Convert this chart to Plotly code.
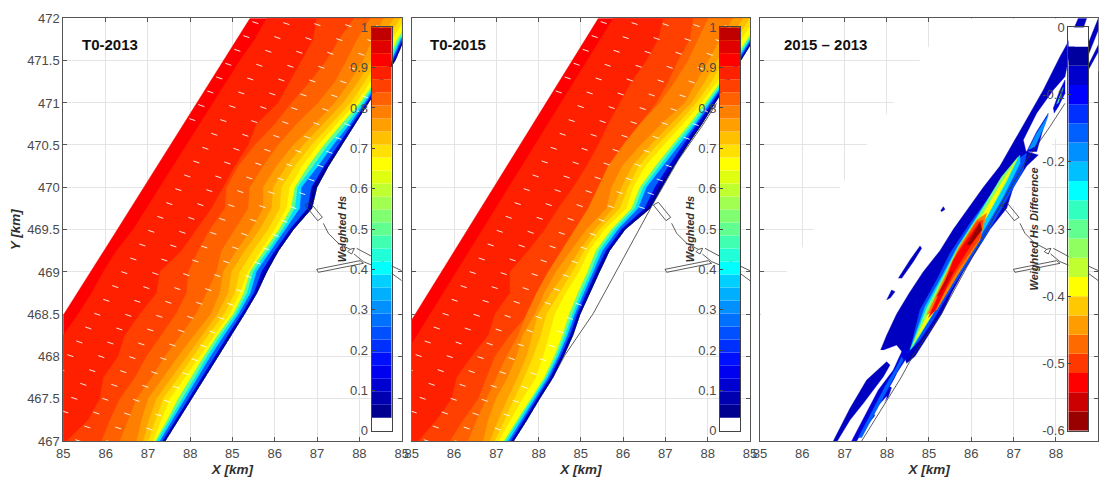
import plotly.graph_objects as go

# Local grid: 127 cells per x tick, 253.6 cells per km in y
row_y = [0,63,127,190,254,317,381,444,508,571,635,698,761,825,888,951,1015,1078,1142,1205,1268]
x_tickvals = [0,127,254,381,507,634,761,888,1015]
x_ticklabels = ["85","86","87","88","85","86","87","88","85"]
y_tickvals = [0,127,254,380,507,634,761,888,1014,1141,1268]
y_ticklabels = ["467","467.5","468","468.5","469","469.5","470","470.5","471","471.5","472"]

# Offshore edge of the model domain
edge_2013 = [-238,-198,-158,-118,-78,-38,2,42,82,122,162,201,241,281,321,361,401,440,481,520,560]
edge_2015 = [-225,-186,-146,-107,-68,-29,11,50,90,129,168,207,246,286,325,364,403,442,482,521,560]
mask_right = [305,345,385,423,460,503,545,590,635,675,715,755,795,835,875,915,955,995,1035,1075,1115]

# Waterline
shore_2013 = [305,345,385,425,465,503,543,580,610,645,690,745,760,795,835,875,915,955,995,1022,1062]
shore_2015 = [305,345,383,423,455,483,505,533,563,593,640,715,750,787,827,870,910,950,987,1025,1065]

# Absolute contour positions, offshore
h_hi_2013 = [-200,-160,-120,-80,-40,0,45,85,120,160,210,250,290,330,370,410,450,490,530,575,610]
h_a_2013 = [10,75,110,120,165,185,230,280,290,355,400,445,480,515,555,580,645,680,715,750,760]
h_b_2013 = [115,140,170,215,250,293,338,370,375,405,440,485,490,525,575,635,685,740,790,827,872]
h_c_2013 = [170,195,220,265,305,353,398,430,460,475,515,555,560,600,645,700,765,815,850,882,922]
h_hi_2015 = [-180,-141,-101,-62,-23,16,56,95,135,174,213,252,291,331,370,409,448,487,527,566,605]
h_a_2015 = [20,75,120,135,180,230,250,295,295,350,400,440,485,525,560,590,625,660,705,740,755]
h_b_2015 = [115,155,200,225,250,295,350,385,420,460,490,540,575,605,635,685,735,770,800,835,845]
h_c_2015 = [170,195,225,255,285,320,345,375,410,450,490,530,560,590,635,685,745,790,830,860,890]

# Distance of the near-shore contours from the waterline
d76_2013 = [85,110,130,125,120,110,100,110,130,125,125,145,160,155,145,120,100,95,95,95,100]
d72_2013 = [65,88,105,100,95,88,80,85,105,100,100,120,130,125,115,95,75,70,70,70,70]
d68_2013 = [50,68,85,80,75,68,60,65,80,75,75,95,105,100,90,72,52,50,50,50,50]
d64_2013 = [35,50,65,60,55,50,43,50,55,52,55,75,80,78,70,55,35,33,35,35,35]
d52_2013 = [29,33,40,42,43,40,33,38,50,42,42,62,65,60,53,40,25,20,20,20,20]
d40_2013 = [23,25,27,30,33,30,25,28,40,32,32,50,57,45,40,25,17,14,13,13,13]
d28_2013 = [15,17,20,22,23,20,17,18,30,22,22,35,45,30,25,15,10,9,9,9,9]
d16_2013 = [7,8,10,10,10,9,8,8,15,10,10,12,15,12,10,7,5,5,5,5,5]
d76_2015 = [90,115,130,135,140,150,135,135,130,115,115,130,150,155,140,120,90,95,95,100,100]
d72_2015 = [70,85,95,105,110,120,125,115,100,90,90,110,120,125,110,92,70,70,70,70,70]
d68_2015 = [55,65,75,85,90,95,100,90,80,75,75,90,100,105,90,72,55,50,50,50,50]
d64_2015 = [43,47,50,50,60,70,75,70,60,60,60,70,85,85,70,55,40,33,35,35,35]
d52_2015 = [28,28,25,25,27,30,32,34,35,40,40,55,65,55,45,36,28,22,20,18,18]
d40_2015 = [22,22,20,20,20,22,22,24,25,30,30,45,55,44,35,26,20,15,13,13,13]
d28_2015 = [14,14,14,14,14,15,15,16,18,20,20,35,45,32,25,18,14,10,9,9,9]
d16_2015 = [7,8,8,8,8,8,8,9,10,10,10,16,20,16,12,10,8,6,5,5,5]
d08_both = [3,3,4,4,4,4,3,3,6,4,4,8,10,6,4,3,2,2,2,2,2]

far_colors = ["#ff0000","#ff2000","#ff4000","#ff6000","#ff8000"]
near_colors = ["#ffa000","#ffc000","#ffe000","#ffff00","#60ff90","#00e0ff","#0060ff","#0000d8","#000090"]

# Colour scales
cb_hs = ["#ffffff","#000090","#0000b0","#0000d0","#0000f0","#0010ff","#0030ff","#0050ff","#0070ff","#0090ff","#00b0ff",
         "#00d0ff","#00ffff","#20ffd8","#40ffb0","#60ff90","#80ff70","#a0ff50","#c0ff30","#e0ff10","#ffff00","#ffe000",
         "#ffc000","#ffa000","#ff8000","#ff6000","#ff4000","#ff2000","#ff0000","#e00000","#c00000"]
cb_diff = ["#990000","#cc0000","#ff0000","#ff3800","#ff6a00","#ff9c00","#ffc800","#ffff00","#c0ff30","#90ff60","#60ff90",
           "#30ffc0","#00ffff","#00c0ff","#0090ff","#0060ff","#0030ff","#0000ff","#0000cc","#00009f","#ffffff"]
cb_hs_ticks = [0,0.1,0.2,0.3,0.4,0.5,0.6,0.7,0.8,0.9,1]
cb_hs_labels = ["0","0.1","0.2","0.3","0.4","0.5","0.6","0.7","0.8","0.9","1"]
cb_diff_ticks = [-0.6,-0.5,-0.4,-0.3,-0.2,-0.1,0]
cb_diff_labels = ["-0.6","-0.5","-0.4","-0.3","-0.2","-0.1","0"]

# Difference panel regions: colour, x, y
diff_regions = [
 ("#0000c0",[362,380,410,448,490,540,580,625,670,720,760,785,835,800,760,740,690,650,610,575,545,505,465,440,430,410,370],
            [273,317,381,444,508,571,635,698,761,825,863,873,858,825,761,698,635,571,508,444,381,317,254,233,263,288,273]),
 ("#0000c0",[415,450,480,485,460,425],[488,543,585,578,538,488]),
 ("#0000c0",[380,395,405,390],[423,453,448,428]),
 ("#0000c0",[542,550,555,545],[691,703,695,688]),
 ("#0000c0",[220,270,320,380,390,370,310,270,232],[0,98,183,238,228,193,113,63,0]),
 ("#0000d8",[275,305,355,400,430,455,410,385,350,310,290],[0,58,153,213,278,273,203,133,83,33,0]),
 ("#ffffff",[340,380,370,345],[90,133,105,75]),
 ("#ffffff",[390,410,400],[163,198,158]),
 ("#0060ff",[295,340,375,410,425,430,380,345,305],[10,98,163,223,253,243,150,85,10]),
 ("#0000c0",[720,800,850,900,925,955,980,970,925,915,880,830,790,800,760],[825,963,1053,1153,1198,1268,1268,1238,1143,1093,1053,983,903,860,790]),
 ("#0000d8",[800,830,865,850,830],[868,928,983,938,868]),
 ("#0090ff",[805,830,865,855,825],[873,923,978,948,883]),
 ("#0000d8",[880,900,915,915,895,882],[998,1053,1083,1043,1003,983]),
 ("#60ff90",[890,905,910,895],[1010,1050,1060,1015]),
 ("#0000c0",[985,1015,1015,985],[1128,1188,1168,1113]),
 ("#0000c0",[985,1015,1015,985],[1193,1268,1233,1158]),
 ("#0050ff",[450,480,530,570,630,690,770,800,790,740,670,610,560,520,480,440],[273,393,483,563,653,733,843,863,813,723,603,513,433,363,303,263]),
 ("#00d0ff",[450,495,545,590,650,720,780,780,730,660,590,540,500,460],[273,403,493,578,673,783,858,833,733,613,503,423,353,283]),
 ("#80ff70",[452,500,560,595,660,725,775,740,675,630,570,520,470],[275,398,513,583,683,793,853,778,663,583,473,383,303]),
 ("#ffff00",[460,510,570,610,670,730,770,735,680,650,590,530,480],[293,393,523,593,683,783,843,778,673,623,513,403,323]),
 ("#ff8000",[500,560,595,650,680,660,590,530],[378,503,578,663,683,603,493,393]),
 ("#ff4000",[510,570,590,650,670,660,590,525],[383,513,563,658,663,608,508,398]),
 ("#ff0000",[505,555,580,620,660,665,630,580,525],[370,478,543,603,658,633,583,503,390]),
 ("#990000",[620,660,665,630],[588,655,633,588]),
 ("#cc0000",[530,570,580,540],[433,508,508,438]),
]

# Harbour structures and former waterline
harbour_x = [725,740,777,763,725,None,780,795,825,860,873,None,860,853,865,873,None,880,923,985,1015,None,872,900,985,1015,None,760,890,900,765,760]
harbour_y = [708,716,671,661,708,None,653,623,593,575,578,None,575,568,561,578,None,578,555,525,511,None,561,538,503,481,None,515,541,533,506,515]
old_shore_x = [305,345,385,423,460,545,725,800,870,915]
old_shore_y = [0,63,127,190,258,383,713,843,943,1013]

# Wave vector grid
arrow_row_x = [567,540,513,486,459,432,405,378,351,324,297,270,243,216,189,162,135,108,81,54,27,0,-27,-54,-81,-108,-135,-162,-189,-216,-243]
arrow_row_y = [1258,1216,1175,1133,1092,1050,1009,967,926,884,843,801,760,718,677,635,594,552,511,469,428,386,345,303,262,220,179,137,96,54,13]
arrow_cols = [0,1,2,3,4,5,6,7,8,9]
arrow_col_dx, arrow_col_dy = 93, -3
arrow_dx, arrow_dy = 18, -6


def interp(y, xs):
    for i in range(len(row_y) - 1):
        if row_y[i] <= y <= row_y[i + 1]:
            t = (y - row_y[i]) / (row_y[i + 1] - row_y[i])
            return xs[i] + t * (xs[i + 1] - xs[i])
    return xs[0] if y < 0 else xs[-1]


fig = go.Figure()


def poly(ax, xs, ys, color):
    fig.add_trace(go.Scatter(x=xs, y=ys, mode="lines", fill="toself", fillcolor=color,
                             line=dict(color=color, width=0.4), xaxis="x" + ax, yaxis="y" + ax,
                             hoverinfo="skip", showlegend=False))


def line(ax, xs, ys, color, width):
    fig.add_trace(go.Scatter(x=xs, y=ys, mode="lines", line=dict(color=color, width=width),
                             xaxis="x" + ax, yaxis="y" + ax, hoverinfo="skip", showlegend=False, connectgaps=False))


def hs_panel(ax, edge, shore, hi, a, b, c, dists, with_old):
    poly(ax, edge + mask_right[::-1], row_y + row_y[::-1], "#ffffff")
    if with_old:
        line(ax, old_shore_x, old_shore_y, "#333333", 0.8)
    for col, left in zip(far_colors, [edge, hi, a, b, c]):
        poly(ax, left + shore[::-1], row_y + row_y[::-1], col)
    for col, d in zip(near_colors, dists):
        left = [s - v for s, v in zip(shore, d)]
        poly(ax, left + shore[::-1], row_y + row_y[::-1], col)
    ax_x, ax_y = [], []
    for x0, y0 in zip(arrow_row_x, arrow_row_y):
        for j in arrow_cols:
            x = x0 + j * arrow_col_dx
            y = y0 + j * arrow_col_dy
            if interp(y, edge) + 6 < x < interp(y, shore) - 26:
                ax_x += [x, x + arrow_dx, None]
                ax_y += [y, y + arrow_dy, None]
    line(ax, ax_x, ax_y, "rgba(255,255,255,0.9)", 1)
    line(ax, harbour_x, harbour_y, "#333333", 0.8)


hs_panel("", edge_2013, shore_2013, h_hi_2013, h_a_2013, h_b_2013, h_c_2013,
         [d76_2013, d72_2013, d68_2013, d64_2013, d52_2013, d40_2013, d28_2013, d16_2013, d08_both], False)
hs_panel("2", edge_2015, shore_2015, h_hi_2015, h_a_2015, h_b_2015, h_c_2015,
         [d76_2015, d72_2015, d68_2015, d64_2015, d52_2015, d40_2015, d28_2015, d16_2015, d08_both], True)

poly("3", edge_2013 + mask_right[::-1], row_y + row_y[::-1], "#ffffff")
for col, xs, ys in diff_regions:
    poly("3", xs, ys, col)
line("3", old_shore_x, old_shore_y, "#333333", 0.8)
line("3", harbour_x, harbour_y, "#333333", 0.8)

# Colour bars drawn as stacked cells
n = len(cb_hs)
for ax in ["4", "5"]:
    fig.add_trace(go.Bar(x=[0.5] * n, y=[1 / n] * n, base=[k / n for k in range(n)], width=1,
                         marker=dict(color=cb_hs, line=dict(width=0)), xaxis="x" + ax, yaxis="y" + ax,
                         hoverinfo="skip", showlegend=False))
m = len(cb_diff)
fig.add_trace(go.Bar(x=[0.5] * m, y=[0.6 / m] * m, base=[-0.6 + k * 0.6 / m for k in range(m)], width=1,
                     marker=dict(color=cb_diff, line=dict(width=0)), xaxis="x6", yaxis="y6",
                     hoverinfo="skip", showlegend=False))

W, H = 1105, 477
FONT = "Liberation Sans, Arial, sans-serif"
tick_font = dict(family=FONT, size=13, color="#4a4a4a")
title_font = dict(family=FONT, size=13.5, color="#303030", weight="bold", style="italic")


def dom_x(a, b):
    return [a / W, b / W]


def dom_y(top, bottom):
    return [1 - bottom / H, 1 - top / H]


panels = [("", 63.3, 401.7), ("2", 411.7, 750.0), ("3", 760.0, 1098.3)]
layout = dict(width=W, height=H, margin=dict(l=0, r=0, t=0, b=0, autoexpand=False), paper_bgcolor="#ffffff",
              plot_bgcolor="rgba(0,0,0,0)", showlegend=False, barmode="overlay", font=dict(family=FONT))
for i, (ax, a, b) in enumerate(panels):
    layout["xaxis" + ax] = dict(domain=dom_x(a, b), range=[0, 1015], anchor="y" + ax, tickvals=x_tickvals,
                                ticktext=x_ticklabels, ticks="inside", ticklen=4, tickcolor="#555555",
                                showline=True, linecolor="#555555", linewidth=1, mirror="ticks", automargin=False,
                                showgrid=True, gridcolor="#e4e4e4", gridwidth=1, zeroline=False,
                                layer="below traces", tickfont=tick_font, tickangle=0,
                                title=dict(text="X [km]", font=title_font, standoff=6))
    layout["yaxis" + ax] = dict(domain=dom_y(18.3, 441), range=[0, 1268], anchor="x" + ax, tickvals=y_tickvals,
                                ticktext=y_ticklabels, showticklabels=(i == 0), ticks="inside", ticklen=4,
                                tickcolor="#555555", showline=True, linecolor="#555555", linewidth=1, mirror="ticks",
                                showgrid=True, gridcolor="#e4e4e4", gridwidth=1, zeroline=False, automargin=False,
                                layer="below traces", tickfont=tick_font)
layout["yaxis"]["title"] = dict(text="Y [km]", font=title_font, standoff=3)

bars = [("4", 371.7, 391.7, [0, 1], cb_hs_ticks, cb_hs_labels, "Weighted Hs", 1),
        ("5", 720.0, 740.0, [0, 1], cb_hs_ticks, cb_hs_labels, "Weighted Hs", 1),
        ("6", 1068.3, 1088.3, [-0.6, 0], cb_diff_ticks, cb_diff_labels, "Weighted Hs Difference", 1)]
for ax, a, b, rng, tv, tl, ttl, so in bars:
    layout["xaxis" + ax] = dict(domain=dom_x(a, b), range=[0, 1], anchor="y" + ax, showticklabels=False,
                                ticks="", showgrid=False, zeroline=False, showline=True, mirror=True,
                                automargin=False, linecolor="#444444", linewidth=1)
    layout["yaxis" + ax] = dict(domain=dom_y(27.3, 430.7), range=rng, anchor="x" + ax, tickvals=tv, ticktext=tl,
                                ticks="inside", ticklen=3, tickcolor="#444444", showgrid=False, zeroline=False,
                                automargin=False, showline=True, mirror=True, linecolor="#444444", linewidth=1,
                                tickfont=tick_font,
                                title=dict(text=ttl, font=dict(family=FONT, size=11, color="#303030",
                                                               weight="bold", style="italic"), standoff=so))

layout["annotations"] = [
    dict(text="<b>" + t + "</b>", x=px / W, y=1 - 44.5 / H, xref="paper", yref="paper", xanchor="left", yanchor="middle",
         showarrow=False, font=dict(family=FONT, size=15, color="#111111"))
    for t, px in [("T0-2013", 80), ("T0-2015", 427.5), ("2015 – 2013", 782)]
]
fig.update_layout(**layout)
fig.write_html("out.html", config=dict(displayModeBar=False),
               post_script="document.body.style.margin='0';document.documentElement.style.overflow='hidden';")
